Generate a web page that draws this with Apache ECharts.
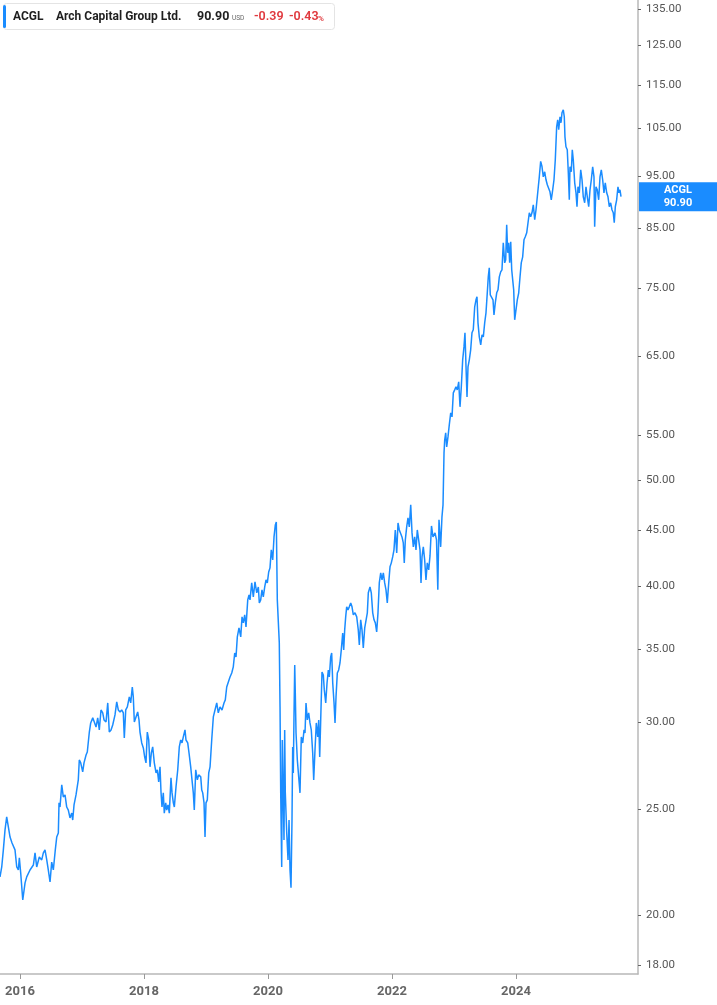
<!DOCTYPE html>
<html><head><meta charset="utf-8">
<script src="https://cdn.jsdelivr.net/npm/echarts@6/dist/echarts.min.js"></script>
<style>html,body{margin:0;padding:0;background:#fff}#c{width:717px;height:1005px}</style>
</head><body><div id="c"></div>
<script>
// ---- data (decimal years / closing prices) ----
const yearTicks = [2016, 2018, 2020, 2022, 2024];
const priceTicks = [18, 20, 25, 30, 35, 40, 45, 50, 55, 65, 75, 85, 95, 105, 115, 125, 135];
const dates = [
2015.677,2015.705,2015.731,2015.758,2015.785,2015.811,2015.839,2015.871,2015.919,2015.947,
2015.973,2015.989,2016.011,2016.044,2016.081,2016.108,2016.161,2016.215,2016.242,2016.269,
2016.311,2016.350,2016.376,2016.403,2016.431,2016.456,2016.484,2016.511,2016.537,2016.569,
2016.592,2016.618,2016.629,2016.645,2016.673,2016.698,2016.726,2016.753,2016.779,2016.806,
2016.834,2016.850,2016.871,2016.903,2016.940,2016.956,2016.979,2017.011,2017.032,2017.065,
2017.085,2017.118,2017.140,2017.173,2017.198,2017.226,2017.253,2017.279,2017.306,2017.334,
2017.355,2017.387,2017.415,2017.440,2017.468,2017.495,2017.532,2017.560,2017.585,2017.613,
2017.640,2017.666,2017.682,2017.705,2017.731,2017.763,2017.785,2017.811,2017.827,2017.844,
2017.871,2017.898,2017.919,2017.935,2017.963,2017.989,2018.011,2018.032,2018.053,2018.076,
2018.097,2018.118,2018.140,2018.166,2018.194,2018.215,2018.237,2018.258,2018.274,2018.290,
2018.311,2018.327,2018.350,2018.366,2018.387,2018.408,2018.435,2018.452,2018.473,2018.489,
2018.516,2018.544,2018.569,2018.592,2018.613,2018.634,2018.661,2018.677,2018.705,2018.726,
2018.753,2018.774,2018.795,2018.811,2018.834,2018.860,2018.882,2018.915,2018.931,2018.947,
2018.968,2018.984,2019.000,2019.021,2019.044,2019.065,2019.092,2019.118,2019.145,2019.173,
2019.198,2019.226,2019.258,2019.290,2019.311,2019.334,2019.360,2019.387,2019.415,2019.440,
2019.463,2019.484,2019.505,2019.532,2019.560,2019.581,2019.602,2019.624,2019.645,2019.673,
2019.694,2019.710,2019.737,2019.763,2019.790,2019.818,2019.844,2019.860,2019.882,2019.903,
2019.924,2019.947,2019.968,2019.989,2020.011,2020.032,2020.053,2020.076,2020.097,2020.118,
2020.134,2020.150,2020.182,2020.194,2020.205,2020.221,2020.231,2020.247,2020.258,2020.269,
2020.279,2020.302,2020.323,2020.339,2020.355,2020.371,2020.387,2020.398,2020.408,2020.419,
2020.431,2020.440,2020.452,2020.473,2020.495,2020.516,2020.537,2020.560,2020.581,2020.597,
2020.613,2020.634,2020.656,2020.677,2020.698,2020.721,2020.737,2020.758,2020.779,2020.802,
2020.818,2020.834,2020.850,2020.871,2020.892,2020.908,2020.931,2020.952,2020.973,2020.989,
2021.011,2021.027,2021.044,2021.065,2021.081,2021.097,2021.118,2021.140,2021.161,2021.182,
2021.205,2021.221,2021.237,2021.253,2021.269,2021.290,2021.311,2021.334,2021.355,2021.376,
2021.403,2021.431,2021.456,2021.473,2021.495,2021.516,2021.537,2021.560,2021.581,2021.602,
2021.618,2021.645,2021.666,2021.689,2021.710,2021.731,2021.753,2021.774,2021.795,2021.818,
2021.839,2021.860,2021.882,2021.903,2021.924,2021.947,2021.968,2021.989,2022.011,2022.032,
2022.053,2022.076,2022.097,2022.118,2022.140,2022.161,2022.182,2022.198,2022.215,2022.237,
2022.258,2022.279,2022.302,2022.323,2022.344,2022.366,2022.387,2022.408,2022.431,2022.452,
2022.468,2022.484,2022.505,2022.527,2022.548,2022.569,2022.592,2022.613,2022.637,2022.661,
2022.694,2022.718,2022.739,2022.758,2022.785,2022.806,2022.823,2022.839,2022.850,2022.866,
2022.882,2022.903,2022.924,2022.947,2022.968,2022.989,2023.011,2023.032,2023.053,2023.076,
2023.097,2023.118,2023.140,2023.161,2023.177,2023.194,2023.210,2023.226,2023.247,2023.269,
2023.290,2023.311,2023.334,2023.355,2023.371,2023.387,2023.408,2023.431,2023.452,2023.473,
2023.495,2023.516,2023.537,2023.553,2023.569,2023.585,2023.608,2023.629,2023.645,2023.666,
2023.689,2023.710,2023.731,2023.753,2023.774,2023.795,2023.818,2023.834,2023.850,2023.866,
2023.882,2023.898,2023.915,2023.931,2023.947,2023.963,2023.979,2024.000,2024.021,2024.044,
2024.065,2024.085,2024.108,2024.129,2024.150,2024.173,2024.194,2024.215,2024.237,2024.258,
2024.279,2024.302,2024.323,2024.344,2024.360,2024.376,2024.398,2024.419,2024.440,2024.463,
2024.484,2024.505,2024.527,2024.548,2024.569,2024.592,2024.613,2024.634,2024.656,2024.673,
2024.689,2024.710,2024.726,2024.742,2024.763,2024.779,2024.790,2024.806,2024.827,2024.844,
2024.860,2024.871,2024.892,2024.908,2024.924,2024.947,2024.968,2024.984,2025.000,2025.021,
2025.044,2025.065,2025.085,2025.108,2025.129,2025.150,2025.173,2025.194,2025.215,2025.237,
2025.258,2025.269,2025.290,2025.311,2025.334,2025.355,2025.376,2025.398,2025.419,2025.440,
2025.463,2025.484,2025.505,2025.527,2025.548,2025.569,2025.585,2025.602,2025.624,2025.645,
2025.661,2025.677,2025.694
];
const closes = [
21.67,22.13,22.94,23.93,24.59,24.69,23.57,23.28,22.94,22.13,
21.99,22.56,21.85,20.64,21.40,21.67,21.99,22.22,22.80,22.13,
22.60,22.46,22.80,22.94,22.46,21.99,21.44,22.36,21.99,22.94,
23.57,23.77,25.33,25.11,26.31,25.65,25.76,25.11,24.95,24.54,
24.79,24.43,25.22,25.76,26.59,27.73,27.56,27.04,27.56,28.02,
28.20,29.41,29.98,30.30,30.04,29.72,30.30,29.54,30.81,30.62,
30.17,30.04,31.27,29.41,29.54,29.85,30.49,31.34,30.81,30.68,
30.81,30.62,29.05,30.81,31.01,31.67,31.27,32.34,31.67,30.04,
30.36,30.68,30.17,29.41,28.74,28.44,27.90,27.56,29.41,28.92,
27.33,28.14,28.50,27.56,26.98,27.16,26.48,27.33,25.92,25.11,
25.87,24.79,25.33,24.95,25.22,24.79,26.70,25.87,25.33,25.11,
26.20,27.16,28.50,28.92,28.74,29.11,29.54,28.92,28.74,28.14,
27.33,26.59,25.87,24.95,27.16,26.59,26.87,26.76,26.03,25.87,
25.33,23.57,25.33,25.49,26.98,27.33,28.92,30.36,30.81,31.27,
30.62,31.01,30.81,31.27,31.47,32.34,32.27,33.03,33.31,33.74,
34.74,34.45,35.94,36.63,35.94,37.49,37.02,37.65,36.71,38.86,
39.27,38.86,40.27,39.11,40.36,39.44,39.93,38.61,38.86,39.69,
39.11,39.93,40.53,40.27,41.21,41.57,43.18,42.27,44.37,45.51,
45.80,38.86,35.49,31.01,25.87,22.13,28.92,25.49,23.42,29.54,
25.87,23.77,22.46,24.43,21.99,21.18,24.43,28.50,26.98,30.36,
33.88,31.94,29.35,27.73,26.76,25.87,29.11,28.74,29.54,29.35,
31.27,30.17,30.62,29.98,29.54,28.14,26.59,28.32,29.98,29.11,
30.17,27.90,30.17,33.38,33.17,32.14,31.27,32.61,33.52,33.03,
34.45,34.74,32.61,31.27,29.98,31.67,33.31,33.52,34.02,34.97,
36.24,34.97,36.48,37.49,38.29,38.05,38.29,38.61,38.29,37.65,
37.81,37.49,36.48,35.34,37.26,36.48,35.12,36.63,36.48,37.81,
39.44,39.93,39.44,37.81,37.26,37.02,36.32,37.81,40.27,41.13,
40.53,41.13,40.27,39.69,38.61,40.27,41.66,42.01,42.54,43.18,
45.03,42.90,45.70,45.03,45.22,44.37,43.81,42.01,44.09,45.32,
46.19,45.32,47.47,44.75,43.45,44.37,43.18,45.03,45.03,43.18,
40.27,42.54,43.45,42.27,40.53,42.01,41.39,42.63,45.41,44.37,
44.75,44.09,39.69,46.00,43.45,46.29,47.47,52.97,54.43,55.26,
53.65,54.78,56.20,57.63,57.15,60.11,60.50,60.88,60.50,61.53,
58.37,60.88,64.45,66.23,68.23,63.50,59.61,63.50,64.45,65.82,
68.23,68.67,72.07,73.14,73.61,69.68,67.65,66.52,67.94,67.65,
69.68,71.16,74.23,76.77,78.25,73.92,73.61,73.14,70.86,72.68,
74.23,74.70,76.77,77.58,77.92,82.48,79.07,79.58,85.67,80.76,
82.48,79.07,82.66,77.92,76.29,74.70,70.12,70.12,73.14,74.23,
76.77,79.07,80.08,83.00,83.53,84.24,86.04,87.87,87.13,87.87,
89.36,86.59,88.43,90.88,92.82,94.79,97.93,96.87,94.79,95.80,
94.20,93.21,93.60,91.84,90.31,92.22,94.20,98.26,105.34,106.90,
104.67,107.58,106.23,108.49,109.18,107.58,103.13,100.99,100.35,95.59,
90.31,96.81,95.80,100.35,98.26,93.60,91.64,88.99,92.82,91.64,
96.20,94.20,90.88,89.74,92.82,90.88,88.99,92.22,94.20,96.81,
94.79,85.31,92.82,92.22,90.31,94.79,96.20,94.20,91.64,93.60,
91.64,90.88,88.99,89.74,88.43,87.87,86.04,88.99,90.31,92.82,
91.64,92.22,90.90
];
const ticker = 'ACGL';
const company = 'Arch Capital Group Ltd.';
const lastPrice = '90.90';
const change = '-0.39';
const changePct = '-0.43';

// ---- build ----
const seriesData = dates.map((d, i) => [d, closes[i]]);
const BLUE = '#1a8cff';

const chart = echarts.init(document.getElementById('c'), null, {renderer: 'canvas'});
const titleGraphics = [
  {type: 'rect', id: 'tbox', shape: {x: 3.5, y: 3.5, width: 331, height: 26, r: 3},
   style: {fill: '#fff', stroke: '#e4e4e4', lineWidth: 1}, z: 100},
  {type: 'rect', id: 'tbar', shape: {x: 3, y: 5, width: 3, height: 23, r: 1.5},
   style: {fill: BLUE}, z: 101},
  {type: 'text', id: 't1', x: 13, y: 17, z: 101,
   style: {text: ticker, fill: '#1f1f1f', font: 'bold 12px Roboto', verticalAlign: 'middle'}},
  {type: 'text', id: 't2', x: 56, y: 17, z: 101,
   style: {text: company, fill: '#1f1f1f', font: 'bold 12px Roboto', verticalAlign: 'middle'}},
  {type: 'text', id: 't3', x: 197, y: 17, z: 101,
   style: {text: lastPrice, fill: '#1f1f1f', font: 'bold 12.5px Roboto', verticalAlign: 'middle'}},
  {type: 'text', id: 't4', x: 232, y: 18.5, z: 101,
   style: {text: 'USD', fill: '#666', font: '6.5px Roboto', verticalAlign: 'middle'}},
  {type: 'text', id: 't5', x: 254, y: 17, z: 101,
   style: {text: change, fill: '#e0393e', font: '600 12.5px Roboto', verticalAlign: 'middle'}},
  {type: 'text', id: 't6', x: 289, y: 17, z: 101,
   style: {text: changePct, fill: '#e0393e', font: '600 12.5px Roboto', verticalAlign: 'middle'}},
  {type: 'text', id: 't7', x: 318, y: 19, z: 101,
   style: {text: '%', fill: '#e0393e', font: '600 8px Roboto', verticalAlign: 'middle'}}
];

chart.setOption({
  animation: false,
  backgroundColor: '#fff',
  grid: {left: 0, right: 79, top: 0, bottom: 31, containLabel: false},
  xAxis: {
    type: 'value', min: 2015.677, max: 2025.968, scale: true,
    axisLine: {show: true, lineStyle: {color: '#b8b8b8', width: 1.5}},
    axisTick: {show: true, customValues: yearTicks, length: 5, lineStyle: {color: '#999'}},
    axisLabel: {customValues: yearTicks, formatter: v => String(Math.round(v)),
      color: '#666', fontWeight: 'bold', fontSize: 13, fontFamily: 'Roboto', margin: 11},
    splitLine: {show: false}
  },
  yAxis: {
    type: 'log', position: 'right', min: 17.66, max: 137.6,
    axisLine: {show: true, lineStyle: {color: '#b8b8b8', width: 1.5}},
    axisTick: {show: true, customValues: priceTicks, length: 3, lineStyle: {color: '#666'}},
    axisLabel: {customValues: priceTicks, formatter: v => Number(v).toFixed(2),
      color: '#555', fontSize: 11.5, fontFamily: 'Roboto', margin: 8},
    splitLine: {show: false}
  },
  series: [{
    type: 'line', data: seriesData, showSymbol: false, symbol: 'none',
    lineStyle: {color: BLUE, width: 1.5}, itemStyle: {color: BLUE}
  }],
  graphic: titleGraphics
});

const last = closes[closes.length - 1];
const py = chart.convertToPixel({yAxisIndex: 0}, last);
chart.setOption({
  graphic: titleGraphics.concat([
    {type: 'rect', id: 'badge', shape: {x: 639, y: py - 14.5, width: 78, height: 29},
     style: {fill: BLUE}, z: 100},
    {type: 'text', id: 'b1', x: 678, y: py - 6.5, z: 101,
     style: {text: ticker, fill: '#fff', font: 'bold 11px Roboto', align: 'center', verticalAlign: 'middle'}},
    {type: 'text', id: 'b2', x: 678, y: py + 6.5, z: 101,
     style: {text: last.toFixed(2), fill: '#fff', font: 'bold 11px Roboto', align: 'center', verticalAlign: 'middle'}}
  ])
});
</script>
</body></html>
